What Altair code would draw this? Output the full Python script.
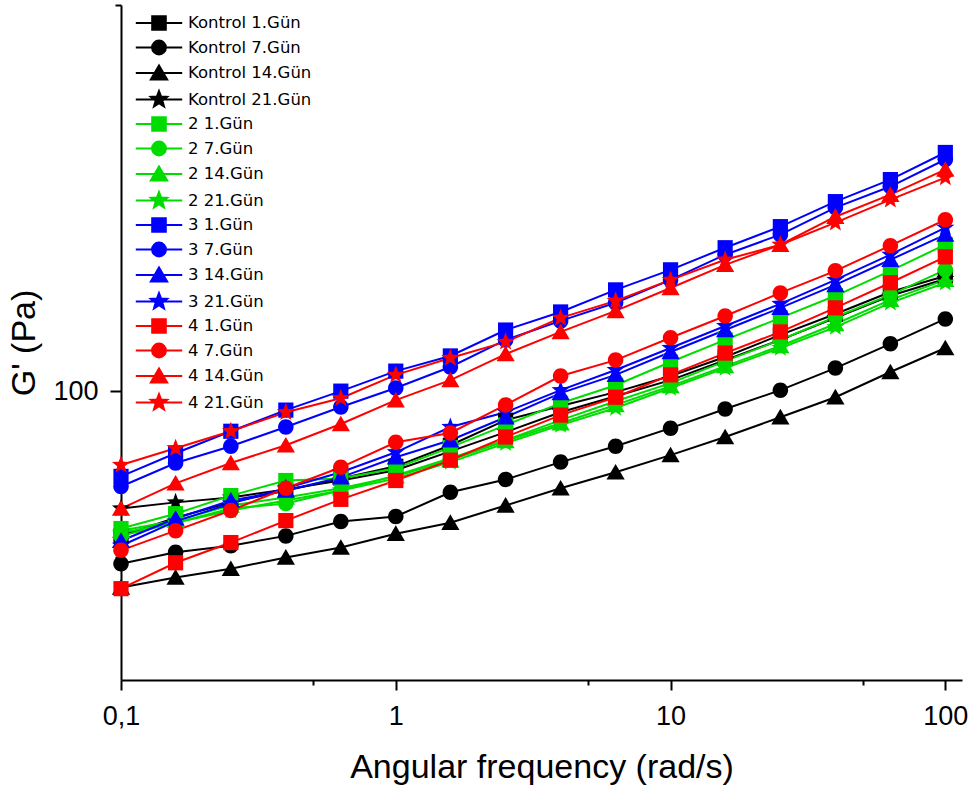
import math
import altair as alt
import pandas as pd

# Angular frequency sweep (rad/s)
freq = [0.1, 0.158, 0.251, 0.398, 0.631, 1.0, 1.58, 2.51, 3.98, 6.31,
        10.0, 15.8, 25.1, 39.8, 63.1, 100.0]

# Storage modulus G' (Pa) for each sample and storage day
kontrol_1 = [54.7, 59.0, 62.9, 66.1, 69.5, 73.1, 79.8, 88.6, 94.0, 99.6, 106.5, 115.3, 126.4, 137.9, 151.2, 161.6]
kontrol_7 = [48.7, 51.1, 52.5, 54.7, 58.1, 59.3, 65.6, 69.2, 74.4, 79.5, 85.7, 92.8, 100.4, 110.1, 121.8, 135.1]
kontrol_14 = [44.1, 46.0, 47.7, 50.0, 52.1, 55.2, 57.8, 62.1, 66.7, 71.3, 76.6, 82.6, 89.7, 97.5, 108.3, 119.7]
kontrol_21 = [61.3, 62.9, 64.2, 66.4, 68.9, 71.9, 77.8, 84.3, 91.6, 97.9, 104.7, 113.8, 123.8, 135.7, 148.8, 159.6]

s2_1 = [56.4, 60.0, 64.7, 68.9, 69.5, 72.5, 79.1, 86.8, 95.1, 102.5, 112.9, 123.8, 135.7, 148.8, 165.1, 184.1]
s2_7 = [54.7, 57.8, 61.3, 62.6, 66.1, 70.4, 75.6, 81.5, 88.6, 95.9, 103.4, 113.3, 123.8, 136.2, 149.4, 165.8]
s2_14 = [55.9, 58.3, 62.1, 64.2, 66.7, 70.1, 75.0, 81.2, 87.5, 94.4, 102.1, 111.0, 120.7, 132.3, 146.3, 159.0]
s2_21 = [55.4, 57.8, 60.8, 63.4, 66.1, 69.5, 74.4, 80.5, 86.8, 93.2, 101.3, 110.1, 119.7, 130.6, 144.5, 157.1]

s3_1 = [70.1, 77.2, 84.6, 92.4, 100.0, 108.7, 115.8, 129.0, 139.1, 152.5, 165.8, 181.8, 198.5, 220.3, 241.5, 270.4]
s3_7 = [67.2, 74.1, 79.5, 86.1, 93.6, 101.3, 110.6, 123.8, 134.0, 144.5, 159.0, 176.6, 192.0, 214.9, 234.6, 262.6]
s3_14 = [53.6, 58.8, 63.4, 66.1, 69.8, 75.9, 81.5, 89.7, 99.2, 107.0, 117.7, 129.0, 141.5, 155.7, 172.9, 192.0]
s3_21 = [52.5, 58.1, 62.6, 66.7, 71.3, 77.5, 86.1, 91.6, 100.4, 109.2, 119.7, 131.2, 143.9, 159.0, 176.6, 197.7]

s4_1 = [43.9, 48.9, 53.2, 58.3, 63.7, 68.9, 75.0, 82.6, 90.5, 97.5, 107.0, 117.2, 128.0, 141.5, 157.1, 175.0]
s4_7 = [51.5, 55.9, 60.8, 66.7, 72.8, 80.8, 84.0, 94.4, 106.5, 113.8, 124.9, 136.8, 150.6, 165.1, 183.4, 204.3]
s4_14 = [61.3, 68.1, 74.1, 79.8, 87.2, 96.3, 104.7, 116.7, 128.0, 139.7, 153.7, 169.3, 184.1, 206.9, 226.8, 251.8]
s4_21 = [73.5, 78.8, 84.6, 91.6, 97.1, 107.0, 114.8, 122.8, 135.7, 145.7, 159.0, 172.9, 184.1, 201.8, 222.1, 243.5]

labels = [
    "Kontrol 1.Gün", "Kontrol 7.Gün", "Kontrol 14.Gün", "Kontrol 21.Gün",
    "2 1.Gün", "2 7.Gün", "2 14.Gün", "2 21.Gün",
    "3 1.Gün", "3 7.Gün", "3 14.Gün", "3 21.Gün",
    "4 1.Gün", "4 7.Gün", "4 14.Gün", "4 21.Gün",
]
values = [
    kontrol_1, kontrol_7, kontrol_14, kontrol_21,
    s2_1, s2_7, s2_14, s2_21,
    s3_1, s3_7, s3_14, s3_21,
    s4_1, s4_7, s4_14, s4_21,
]

group_colors = ["#000000", "#00dc00", "#0000ff", "#ff0000"]
day_markers = ["square", "circle", "triangle", "star"]


def star_path(r_out, ratio=0.42):
    pts = []
    for k in range(10):
        ang = math.radians(-90 + 36 * k)
        r = r_out if k % 2 == 0 else r_out * ratio
        pts.append(f"{r * math.cos(ang):.3f},{r * math.sin(ang):.3f}")
    return "M" + "L".join(pts) + "Z"


def marker_path(kind, s):
    if kind == "square":
        return f"M{-s:.3f},{-s:.3f}H{s:.3f}V{s:.3f}H{-s:.3f}Z"
    if kind == "circle":
        r = s * 1.02
        return f"M{-r:.3f},0A{r:.3f},{r:.3f} 0 1,0 {r:.3f},0A{r:.3f},{r:.3f} 0 1,0 {-r:.3f},0Z"
    if kind == "triangle":
        return f"M0,{-1.1 * s:.3f}L{1.2 * s:.3f},{0.95 * s:.3f}L{-1.2 * s:.3f},{0.95 * s:.3f}Z"
    return star_path(1.25 * s)


series_colors = [group_colors[i // 4] for i in range(16)]
plot_shapes = [marker_path(day_markers[i % 4], 0.95) for i in range(16)]
# legend keys: a short line segment through the marker
legend_shapes = ["M-2.9,0H2.9" + marker_path(day_markers[i % 4], 0.85) for i in range(16)]

rows = []
for name, ys in zip(labels, values):
    for f, g in zip(freq, ys):
        rows.append({"series": name, "freq": f, "G": g})
df = pd.DataFrame(rows)

font = "Liberation Sans"

x_enc = alt.X(
    "freq:Q",
    scale=alt.Scale(type="log", domain=[0.1, 115], nice=False),
    axis=alt.Axis(
        title="Angular frequency (rad/s)",
        values=[0.1, 0.5, 1, 5, 10, 50, 100],
        labelExpr="datum.value == 0.1 ? '0,1' : (datum.value == 1 || datum.value == 10 || datum.value == 100) ? format(datum.value, 'd') : ''",
        tickSize={"condition": {"test": "datum.value == 1 || datum.value == 10 || datum.value == 100 || datum.value == 0.1", "value": 10}, "value": 5},
        labelOverlap=False,
        labelFlush=False,
        grid=False,
        domainColor="black", domainWidth=2,
        tickColor="black", tickWidth=2,
        labelFont=font, labelFontSize=27, labelColor="black", labelPadding=13,
        titleFont=font, titleFontSize=34, titleFontWeight="normal", titleColor="black",
        titlePadding=21,
    ),
)
y_enc = alt.Y(
    "G:Q",
    scale=alt.Scale(type="log", domain=[30, 500], nice=False),
    axis=alt.Axis(
        title="G' (Pa)",
        values=[50, 100, 500],
        labelExpr="datum.value == 100 ? '100' : ''",
        tickSize={"condition": {"test": "datum.value == 100", "value": 11}, "value": 6},
        labelOverlap=False,
        grid=False,
        domainColor="black", domainWidth=2,
        tickColor="black", tickWidth=2,
        labelFont=font, labelFontSize=27, labelColor="black", labelPadding=12,
        titleFont=font, titleFontSize=34, titleFontWeight="normal", titleColor="black",
        titlePadding=11,
    ),
)

color_scale = alt.Scale(domain=labels, range=series_colors)

lines = alt.Chart(df).mark_line(strokeWidth=2).encode(
    x=x_enc,
    y=y_enc,
    color=alt.Color("series:N", scale=color_scale, legend=None),
    detail="series:N",
)

points = alt.Chart(df).mark_point(filled=True, size=256, opacity=1).encode(
    x=x_enc,
    y=y_enc,
    color=alt.Color("series:N", scale=color_scale, legend=None),
    shape=alt.Shape("series:N", scale=alt.Scale(domain=labels, range=plot_shapes), legend=None),
)


def key_legend():
    return alt.Legend(
        title=None,
        orient="none",
        legendX=29,
        legendY=9,
        padding=0,
        symbolSize=256,
        symbolStrokeWidth=2,
        symbolOpacity=1,
        symbolLimit=0,
        labelFont="DejaVu Sans",
        labelFontSize=16.5,
        labelColor="black",
        labelOffset=20,
        rowPadding=2.5,
        labelLimit=300,
    )


# legend-only layer: no rows reach the marks, its scales feed the key
key = alt.Chart(df).transform_filter("false").mark_point(filled=True, size=256, strokeWidth=2).encode(
    x=x_enc,
    y=y_enc,
    fill=alt.Fill("series:N", scale=alt.Scale(domain=labels, range=series_colors), legend=key_legend()),
    stroke=alt.Stroke("series:N", scale=alt.Scale(domain=labels, range=series_colors), legend=key_legend()),
    shape=alt.Shape("series:N", scale=alt.Scale(domain=labels, range=legend_shapes), legend=key_legend()),
)

chart = (
    alt.layer(lines, points, key)
    .resolve_scale(shape="independent", fill="independent", stroke="independent")
    .resolve_legend(shape="independent", fill="independent", stroke="independent")
    .properties(
        width=841,
        height=675,
        autosize=alt.AutoSizeParams(type="none"),
        padding={"left": 121, "top": 5, "right": 14, "bottom": 111},
        background="white",
    )
    .configure_view(stroke=None)
)

chart.save("out.html", embed_options={"renderer": "svg", "actions": False})
